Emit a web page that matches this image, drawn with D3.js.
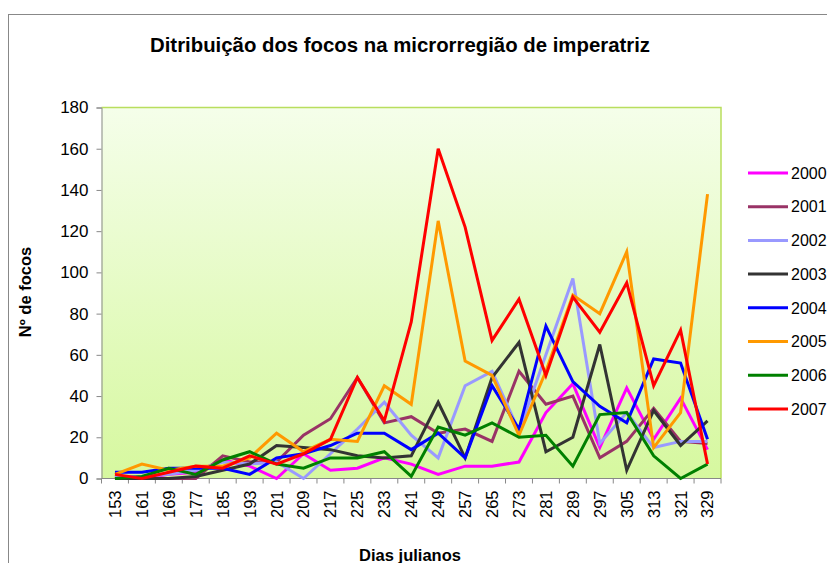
<!DOCTYPE html>
<html><head><meta charset="utf-8">
<script src="https://cdn.jsdelivr.net/npm/d3@7"></script>
<style>html,body{margin:0;padding:0;background:#fff;overflow:hidden}svg{display:block;font-family:"Liberation Sans",Arial,sans-serif}</style>
</head><body>
<svg id="c" width="827" height="563"></svg>
<script>
const days = ["153","161","169","177","185","193","201","209","217","225","233","241","249","257","265","273","281","289","297","305","313","321","329"];
const yTicks = [0,20,40,60,80,100,120,140,160,180];
const years = ["2000","2001","2002","2003","2004","2005","2006","2007"];
const colors = ["#ff00ff","#993366","#9999ff","#333333","#0000ff","#ff9900","#008000","#ff0000"];
const s2000 = [1,0,2,3,9,6,0,12,4,5,10,7,2,6,6,8,32,46,15,44,19,39,14];
const s2001 = [0,0,0,0,11,8,8,21,29,49,27,30,22,24,18,52,36,40,10,18,34,18,17];
const s2002 = [1,1,2,4,8,7,8,0,12,24,37,21,10,45,52,23,60,97,17,32,15,18,18];
const s2003 = [0,0,0,1,4,7,16,15,14,11,10,11,37,10,49,66,13,20,65,4,33,16,28];
const s2004 = [3,3,5,5,5,2,10,12,16,22,22,14,22,10,45,24,74,47,35,27,58,56,19];
const s2005 = [2,7,4,6,6,10,22,13,19,18,45,36,125,57,50,21,52,89,80,110,15,32,138];
const s2006 = [0,1,5,2,9,13,7,5,10,10,13,1,25,21,27,20,21,6,31,32,11,0,7];
const s2007 = [2,0,3,6,5,11,7,12,19,49,28,76,160,122,67,87,50,88,71,95,45,72,7];
const series = [s2000,s2001,s2002,s2003,s2004,s2005,s2006,s2007];

const svg = d3.select("#c");
const L = 101.5, R = 721, T = 107.5, B = 478.5;
const x = d3.scaleBand().domain(days).range([L, R]);
const y = d3.scaleLinear().domain([0, 180]).range([B, T]);
const cx = d => x(d) + x.bandwidth() / 2;

// outer border
svg.append("rect").attr("x", 8.5).attr("y", 14.5).attr("width", 900).attr("height", 700)
  .attr("fill", "#fff").attr("stroke", "#888").attr("stroke-width", 1);

// title
svg.append("text").attr("x", 150).attr("y", 52).attr("font-size", 21).attr("font-weight", "bold")
  .attr("textLength", 500).attr("lengthAdjust", "spacingAndGlyphs")
  .text("Ditribuição dos focos na microrregião de imperatriz");

// plot background
const defs = svg.append("defs");
const g = defs.append("linearGradient").attr("id", "bg").attr("x1", 0).attr("y1", 0).attr("x2", 0).attr("y2", 1);
g.append("stop").attr("offset", "0%").attr("stop-color", "#f5feea");
g.append("stop").attr("offset", "100%").attr("stop-color", "#d6f89f");
svg.append("rect").attr("x", L).attr("y", T).attr("width", R - L).attr("height", B - T).attr("fill", "url(#bg)");
svg.append("path").attr("d", `M${L},${T}H${R}V${B}`).attr("fill", "none").attr("stroke", "#b9de5e").attr("stroke-width", 1.5);

// y axis
const ya = svg.append("g").attr("transform", `translate(${L},0)`)
  .call(d3.axisLeft(y).tickValues(yTicks).tickSize(5).tickPadding(8));
ya.select(".domain").attr("stroke", "#888");
ya.selectAll(".tick line").attr("stroke", "#888");
ya.selectAll(".tick text").attr("font-size", 17).attr("font-family", "Liberation Sans, Arial, sans-serif").attr("fill", "#000");

// x axis
svg.append("line").attr("x1", L).attr("x2", R).attr("y1", B).attr("y2", B).attr("stroke", "#888");
const bounds = days.map(d => x(d)).concat([x(days[days.length - 1]) + x.bandwidth()]);
svg.append("g").selectAll("line").data(bounds).join("line")
  .attr("x1", d => d).attr("x2", d => d).attr("y1", B).attr("y2", B + 5).attr("stroke", "#888");
svg.append("g").selectAll("text").data(days).join("text")
  .attr("transform", d => `translate(${cx(d)},${B + 12}) rotate(-90)`)
  .attr("text-anchor", "end").attr("dy", "0.36em").attr("font-size", 16.5).text(d => d);

// axis titles
svg.append("text").attr("transform", "translate(31,292) rotate(-90)").attr("text-anchor", "middle")
  .attr("font-size", 16.5).attr("font-weight", "bold").text("Nº de focos");
svg.append("text").attr("x", 410).attr("y", 561).attr("text-anchor", "middle")
  .attr("font-size", 16.5).attr("font-weight", "bold").text("Dias julianos");

// lines
const line = d3.line().x((d, i) => cx(days[i])).y(d => y(d));
series.forEach((s, k) => {
  svg.append("path").datum(s).attr("d", line).attr("fill", "none")
    .attr("stroke", colors[k]).attr("stroke-width", 3).attr("stroke-linejoin", "miter");
});

// legend
const lg = svg.append("g");
years.forEach((yr, k) => {
  const yy = 173 + k * 33.7;
  lg.append("line").attr("x1", 748).attr("x2", 788).attr("y1", yy).attr("y2", yy)
    .attr("stroke", colors[k]).attr("stroke-width", 3);
  lg.append("text").attr("x", 791).attr("y", yy).attr("dy", "0.36em").attr("font-size", 16).text(yr);
});
</script>
</body></html>
